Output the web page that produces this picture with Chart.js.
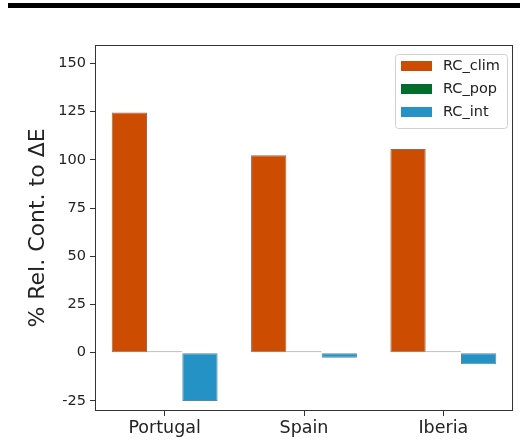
<!DOCTYPE html>
<html>
<head>
<meta charset="utf-8">
<script src="https://cdn.jsdelivr.net/npm/chart.js@4.4.1/dist/chart.umd.min.js"></script>
<style>
  html, body { margin: 0; padding: 0; background: #fff; }
  #wrap { position: relative; width: 525px; height: 447px; }
  #topbar { position: absolute; left: 8px; right: 5px; top: 3px; height: 5px; background: #000; }
</style>
</head>
<body>
<div id="wrap">
  <div id="topbar"></div>
  <canvas id="chart" width="525" height="447"></canvas>
</div>
<script>
const regions = ['Portugal', 'Spain', 'Iberia'];
const rcClim = [124.5, 102.3, 105.6];
const rcPop = [0.8, 0.8, 0.8];
const rcInt = [-25.0, -2.6, -6.0];
const yTicks = [-25, 0, 25, 50, 75, 100, 125, 150];

// full box around the plot, like a matplotlib frame
const frame = {
  id: 'frame',
  afterDraw(chart) {
    const a = chart.chartArea, c = chart.ctx;
    c.save();
    c.strokeStyle = '#333';
    c.lineWidth = 1;
    c.strokeRect(a.left + 0.5, a.top + 0.5, a.right - a.left - 1, a.bottom - a.top - 1);
    c.restore();
  }
};

// legend box in the upper right corner of the plot
const boxLegend = {
  id: 'boxLegend',
  afterDraw(chart) {
    const c = chart.ctx;
    const x = 395, y = 54, w = 112, h = 74;
    c.save();
    c.fillStyle = 'rgba(255,255,255,0.9)';
    c.strokeStyle = '#d0d0d0';
    c.lineWidth = 1;
    c.beginPath();
    c.roundRect(x + 0.5, y + 0.5, w, h, 3);
    c.fill();
    c.stroke();
    c.font = '14.5px "DejaVu Sans"';
    c.textBaseline = 'middle';
    chart.data.datasets.forEach((ds, i) => {
      const cy = y + 12 + i * 23;
      c.fillStyle = ds.backgroundColor;
      c.fillRect(x + 6, cy - 5, 31, 10);
      c.fillStyle = '#222';
      c.fillText(ds.label, x + 48, cy);
    });
    c.restore();
  }
};

new Chart(document.getElementById('chart'), {
  type: 'bar',
  data: {
    labels: regions,
    datasets: [
      { label: 'RC_clim', data: rcClim, backgroundColor: '#cc4c02', borderColor: '#9a6a50', borderWidth: 1 },
      { label: 'RC_pop', data: rcPop, backgroundColor: '#006d2c', borderColor: '#999', borderWidth: 1 },
      { label: 'RC_int', data: rcInt, backgroundColor: '#2592c6', borderColor: '#5a8aa0', borderWidth: 1 }
    ]
  },
  options: {
    responsive: false,
    animation: false,
    layout: { padding: { top: 45, right: 12, left: 0, bottom: 0 } },
    datasets: { bar: { categoryPercentage: 0.76, barPercentage: 1.0, borderSkipped: false } },
    scales: {
      x: {
        grid: { display: true, offset: false, drawOnChartArea: false, drawTicks: true, tickLength: 5, color: '#333' },
        border: { display: false },
        ticks: { color: '#222', font: { family: 'DejaVu Sans', size: 17.5 }, padding: 2, maxRotation: 0 },
        afterFit(scale) { scale.height = 36; }
      },
      y: {
        min: -30.2,
        max: 159.5,
        grid: { display: true, drawOnChartArea: false, drawTicks: true, tickLength: 5, color: '#333' },
        border: { display: false },
        ticks: { color: '#222', font: { family: 'DejaVu Sans', size: 14.5 }, padding: 4 },
        afterBuildTicks(scale) { scale.ticks = yTicks.map(v => ({ value: v })); },
        title: {
          display: true,
          text: '% Rel. Cont. to ΔE',
          color: '#222',
          font: { family: 'DejaVu Sans', size: 22 },
          padding: { top: 25, bottom: 0 }
        },
        afterFit(scale) { scale.width = 95; }
      }
    },
    plugins: {
      legend: { display: false },
      tooltip: { enabled: false }
    }
  },
  plugins: [frame, boxLegend]
});
</script>
</body>
</html>
